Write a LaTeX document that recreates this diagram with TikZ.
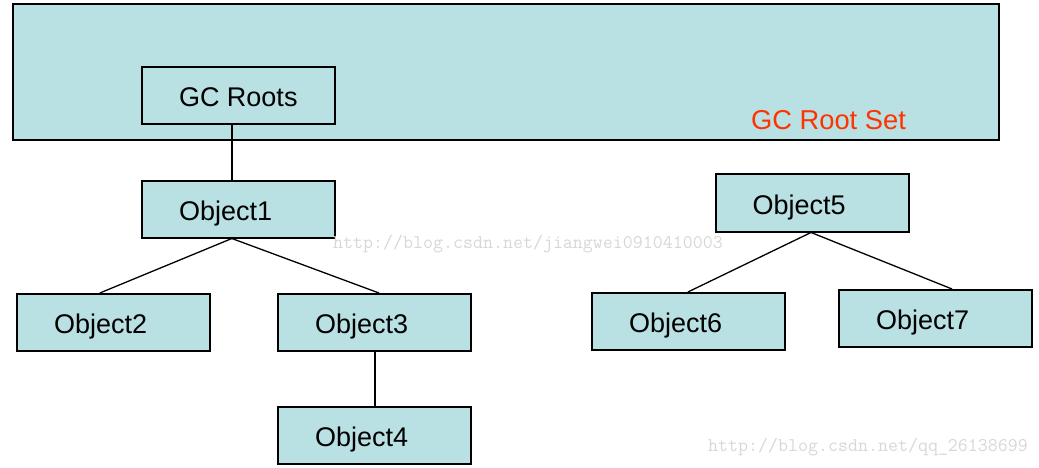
\documentclass[tikz,border=0pt]{standalone}
\usepackage{fontspec}
\setmainfont{Liberation Sans}
\usetikzlibrary{calc}
\definecolor{boxfill}{RGB}{185,224,227}
\definecolor{setred}{RGB}{255,51,0}
\definecolor{wmgray}{RGB}{215,215,212}
\newcommand{\lbltxt}[1]{\makebox[119pt][l]{#1}}
\begin{document}
\begin{tikzpicture}[x=1pt,y=-1pt,
  objbox/.style={draw=black, line width=2pt, fill=boxfill, minimum width=193pt, minimum height=57pt,
    inner xsep=37pt, inner ysep=0pt, text height=22pt, text depth=0pt,
    font=\fontsize{27}{32}\selectfont},
  conn/.style={draw=black, line width=1.3pt},
  vconn/.style={draw=black, line width=2pt},
  wm/.style={text=wmgray, font=\ttfamily\fontsize{19.4}{22}\selectfont, inner sep=0pt, anchor=west}]
\useasboundingbox (0,0) rectangle (1039,468);
\node[draw=black, line width=2.5pt, fill=boxfill, minimum width=986pt, minimum height=136pt, inner sep=0pt] (rootset) at (506,72) {};
\node[text=setred, font=\fontsize{27.3}{32}\selectfont, inner sep=0pt] (setlabel) at (828.5,120) {GC Root Set};
\node[objbox] (roots) at (238.5,95.5) {\lbltxt{GC Roots}};
\node[objbox] (obj1) at (238.5,209) {\lbltxt{Object1}};
\node[objbox] (obj2) at (113.5,322.5) {\lbltxt{Object2}};
\node[objbox] (obj3) at (374.5,322.5) {\lbltxt{Object3}};
\node[objbox] (obj4) at (374.5,435) {\lbltxt{Object4}};
\node[objbox] (obj5) at (812,203) {\lbltxt{Object5}};
\node[objbox] (obj6) at (688.5,321.5) {\lbltxt{Object6}};
\node[objbox] (obj7) at (935.5,318.5) {\lbltxt{Object7}};
\node[wm] (wm1) at (333,244) {http://blog.csdn.net/jiangwei0910410003};
\node[wm] (wm2) at (708,447) {http://blog.csdn.net/qq\_26138699};
\draw[vconn] ($(roots.south west)!0.466!(roots.south east)$) -- ($(obj1.north west)!0.466!(obj1.north east)$);
\draw[conn] ($(obj1.south west)!0.466!(obj1.south east)$) -- ($(obj2.north west)!0.43!(obj2.north east)$);
\draw[conn] ($(obj1.south west)!0.466!(obj1.south east)$) -- ($(obj3.north west)!0.523!(obj3.north east)$);
\draw[vconn] (obj3.south) -- (obj4.north);
\draw[conn] ($(obj5.south west)!0.495!(obj5.south east)$) -- ($(obj6.north west)!0.497!(obj6.north east)$);
\draw[conn] ($(obj5.south west)!0.495!(obj5.south east)$) -- ($(obj7.north west)!0.585!(obj7.north east)$);
\end{tikzpicture}
\end{document}
